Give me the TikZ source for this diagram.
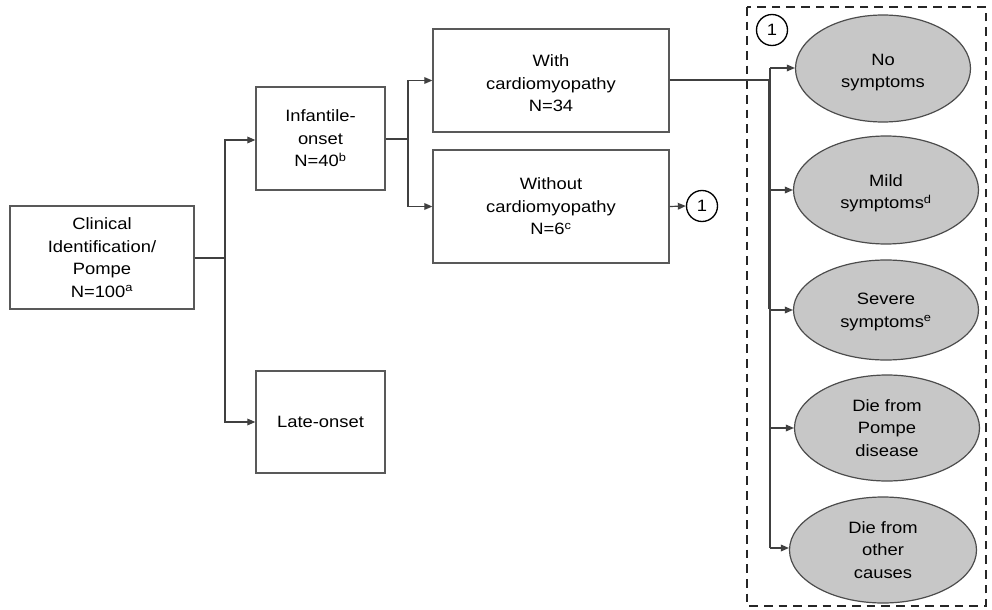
\documentclass[tikz,border=0pt]{standalone}
\usepackage{fontspec}
\setmainfont{Liberation Sans}[FakeStretch=1.12]
\usetikzlibrary{arrows.meta,shapes.geometric}
\begin{document}
\begin{tikzpicture}[x=0.75pt,y=-0.75pt,
  every node/.style={font=\fontsize{12.3}{16.9}\selectfont, align=center, inner sep=0pt},
  box/.style={draw=black!65, line width=1pt, rectangle},
  oval/.style={draw=black!70, line width=0.9pt, ellipse, fill=black!22},
  num/.style={draw=black, line width=1pt, circle, minimum size={31*0.75pt}},
  conn/.style={draw=black!75, line width=0.9pt},
  arr/.style={conn, -{Triangle[length=6pt,width=5pt]}},
  dashbox/.style={draw=black!85, line width=1.4pt, dash pattern=on 6.5pt off 4.5pt}
]
\useasboundingbox (0,0) rectangle (992,610);

% boxes
\node[box, minimum width={184*0.75pt}, minimum height={103*0.75pt}] (clin) at (102,257.5)
  {Clinical\\Identification/\\Pompe\\N=100\textsuperscript{a}};
\node[box, minimum width={129*0.75pt}, minimum height={103*0.75pt}] (inf) at (320.5,138.5)
  {Infantile-\\onset\\N=40\textsuperscript{b}};
\node[box, minimum width={129*0.75pt}, minimum height={102*0.75pt}] (late) at (320.5,422)
  {Late-onset};
\node[box, minimum width={236*0.75pt}, minimum height={103*0.75pt}] (with) at (551,80.5) {};
\node (witht) at ([yshift=-2pt]with.center) {With\\cardiomyopathy\\N=34};
\node[box, minimum width={236*0.75pt}, minimum height={113*0.75pt}] (without) at (551,206.5)
  {Without\\cardiomyopathy\\N=6\textsuperscript{c}};
\node[num] (c1) at (702,206) {1};

% dashed region
\draw[dashbox] (747,7) rectangle (986,606);
\node[num] (c2) at (772,30) {1};

% ellipses
\node[oval, minimum width={175*0.75pt}, minimum height={107*0.75pt}] (e1) at (883,68.5) {};
\node (e1t) at ([yshift=-3pt]e1.center) {No\\symptoms};
\node[oval, minimum width={185*0.75pt}, minimum height={108*0.75pt}] (e2) at (886,190) {};
\node (e2t) at ([yshift=-2.5pt]e2.center) {Mild\\symptoms\textsuperscript{d}};
\node[oval, minimum width={185*0.75pt}, minimum height={100*0.75pt}] (e3) at (886,310) {};
\node (e3t) at ([yshift=-1.5pt]e3.center) {Severe\\symptoms\textsuperscript{e}};
\node[oval, minimum width={185*0.75pt}, minimum height={106*0.75pt}] (e4) at (887,428) {Die from\\Pompe\\disease};
\node[oval, minimum width={187*0.75pt}, minimum height={106*0.75pt}] (e5) at (883,550) {Die from\\other\\causes};

% connectors left part
\coordinate (s1) at (225,258);
\draw[conn] (clin.east |- s1) -- (s1);
\draw[arr] (s1) |- ([yshift=-1.5*0.75pt]inf.west);
\draw[arr] (s1) |- (late.west);

\coordinate (s2) at (408,139);
\draw[conn] (inf.east |- s2) -- (s2);
\draw[arr] (s2) |- (with.west);
\draw[arr] (s2) |- (without.west);

\draw[arr] (without.east) -- (c1.west);

% connectors right part
\coordinate (jt) at (769,80);
\coordinate (jb) at (769,309);
\draw[conn] (with.east |- jt) -- (jt);
\draw[conn, line width=2.2pt] (jt) -- (jb);

\coordinate (bt) at (770,68);
\coordinate (bb) at (770,548);
\draw[conn] (bt) -- (bb);
\draw[arr] (bt) -- (e1.west |- bt);
\draw[arr] (bt |- e2.west) -- (e2.west);
\draw[arr] (bt |- e3.west) -- (e3.west);
\draw[arr] (bt |- e4.west) -- (e4.west);
\draw[arr] (bb) -- (e5.west |- bb);
\end{tikzpicture}
\end{document}
